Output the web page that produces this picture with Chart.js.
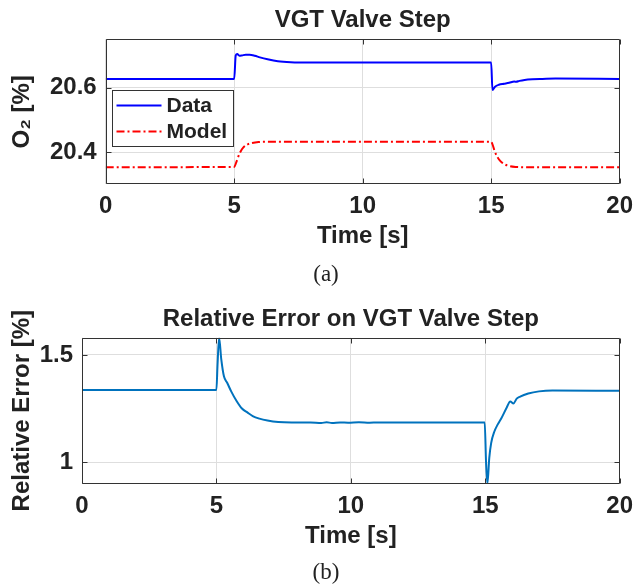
<!DOCTYPE html>
<html>
<head>
<meta charset="utf-8">
<script src="https://cdn.jsdelivr.net/npm/chart.js@4.4.1/dist/chart.umd.min.js"></script>
<style>
    html, body { margin: 0; padding: 0; background: #fff; }
    #wrap { position: relative; width: 641px; height: 586px; overflow: hidden; }
    .panel { position: absolute; left: 0; width: 641px; }
    .caption {
        position: absolute;
        font-family: 'Liberation Serif', 'DejaVu Serif', serif;
        font-size: 23px;
        color: #222;
        transform: translate(-50%, -50%);
    }
</style>
</head>
<body>
<div id="wrap">
    <div class="panel" style="top:0;height:290px"><canvas id="o2Chart" width="641" height="290"></canvas></div>
    <div class="panel" style="top:290px;height:296px"><canvas id="errChart" width="641" height="296"></canvas></div>
    <div class="caption" style="left:326px;top:274px">(a)</div>
    <div class="caption" style="left:326px;top:572px">(b)</div>
</div>
<script>
// tick values
const timeTicks = [0, 5, 10, 15, 20];
const o2Ticks = [20.4, 20.6];
const errTicks = [1, 1.5];

// O2 measured (Data)
const dataTime = [0, 5.0, 5.06, 5.12, 5.2, 5.3, 5.45, 5.6, 5.8, 6.0, 6.3, 6.7, 7.2, 8, 10, 12, 15.0, 15.05, 15.15, 15.3, 15.5, 15.7, 15.9, 15.97, 16.1, 16.3, 16.6, 17.0, 17.5, 20];
const dataO2 = [20.627, 20.627, 20.700, 20.704, 20.699, 20.700, 20.702, 20.702, 20.699, 20.694, 20.688, 20.682, 20.679, 20.678, 20.678, 20.678, 20.678, 20.593, 20.603, 20.609, 20.612, 20.615, 20.619, 20.618, 20.621, 20.624, 20.626, 20.627, 20.628, 20.627];

// O2 model
const modelTime = [0, 5.0, 5.08, 5.16, 5.25, 5.35, 5.5, 5.7, 5.95, 6.3, 6.8, 7.5, 10, 15.0, 15.06, 15.14, 15.24, 15.36, 15.5, 15.7, 15.95, 16.3, 17, 20];
const modelO2 = [20.353, 20.354, 20.368, 20.386, 20.402, 20.414, 20.423, 20.428, 20.431, 20.432, 20.432, 20.432, 20.432, 20.432, 20.422, 20.402, 20.385, 20.372, 20.363, 20.357, 20.354, 20.353, 20.353, 20.353];

// relative error [%]
const errTime = [0, 5.0, 5.04, 5.1, 5.18, 5.28, 5.4, 5.55, 5.75, 5.95, 6.15, 6.35, 6.6, 6.9, 7.3, 7.8, 8.5, 8.9, 9.1, 9.3, 9.6, 9.9, 10.3, 10.7, 11.0, 12, 14.98, 15.03, 15.08, 15.15, 15.22, 15.34, 15.46, 15.6, 15.8, 15.93, 16.05, 16.17, 16.3, 16.6, 17.0, 17.5, 20];
const errValues = [1.336, 1.336, 1.45, 1.58, 1.48, 1.40, 1.37, 1.33, 1.285, 1.25, 1.232, 1.215, 1.203, 1.194, 1.187, 1.185, 1.185, 1.183, 1.186, 1.183, 1.185, 1.184, 1.186, 1.184, 1.185, 1.185, 1.185, 1.0, 0.9, 1.02, 1.089, 1.143, 1.175, 1.205, 1.255, 1.283, 1.274, 1.296, 1.306, 1.32, 1.33, 1.334, 1.333];

function toPoints(xs, ys) {
    return xs.map((x, i) => ({x: x, y: ys[i]}));
}

Chart.defaults.font.family = "'Liberation Sans', Arial, sans-serif";
Chart.defaults.font.size = 24;
Chart.defaults.font.weight = 'bold';
Chart.defaults.color = '#222';
Chart.defaults.animation = false;

// box round the axes with inward ticks, like matlab
const boxPlugin = {
    id: 'boxPlugin',
    afterDatasetsDraw(chart) {
        const {ctx, chartArea: a, scales} = chart;
        const l = Math.round(a.left) + 0.5, r = Math.round(a.right) - 0.5;
        const t = Math.round(a.top) + 0.5, b = Math.round(a.bottom) - 0.5;
        ctx.save();
        ctx.strokeStyle = '#333';
        ctx.lineWidth = 1;
        ctx.beginPath();
        ctx.rect(l, t, r - l, b - t);
        scales.x.ticks.forEach(tk => {
            const px = Math.round(scales.x.getPixelForValue(tk.value)) + 0.5;
            ctx.moveTo(px, b); ctx.lineTo(px, b - 5);
            ctx.moveTo(px, t); ctx.lineTo(px, t + 5);
        });
        scales.y.ticks.forEach(tk => {
            const py = Math.round(scales.y.getPixelForValue(tk.value)) + 0.5;
            ctx.moveTo(l, py); ctx.lineTo(l + 5, py);
            ctx.moveTo(r, py); ctx.lineTo(r - 5, py);
        });
        ctx.stroke();
        ctx.restore();
    }
};

// legend box inside the plot
const insideLegend = {
    id: 'insideLegend',
    afterDatasetsDraw(chart) {
        const {ctx, chartArea: a} = chart;
        const bx = Math.round(a.left + 6) + 0.5, by = Math.round(a.top + 51) + 0.5;
        const bw = 121, bh = 56;
        ctx.save();
        ctx.fillStyle = '#fff';
        ctx.fillRect(bx, by, bw, bh);
        ctx.strokeStyle = '#333';
        ctx.lineWidth = 1;
        ctx.strokeRect(bx, by, bw, bh);
        ctx.font = "bold 21px 'Liberation Sans', Arial, sans-serif";
        ctx.textBaseline = 'middle';
        ctx.fillStyle = '#222';
        chart.data.datasets.forEach((ds, i) => {
            const ly = by + 15 + i * 26;
            ctx.strokeStyle = ds.borderColor;
            ctx.lineWidth = ds.borderWidth;
            ctx.setLineDash(ds.borderDash || []);
            ctx.beginPath();
            ctx.moveTo(bx + 4, ly);
            ctx.lineTo(bx + 49, ly);
            ctx.stroke();
            ctx.setLineDash([]);
            ctx.fillText(ds.label, bx + 54, ly + 1);
        });
        ctx.restore();
    }
};

function timeAxis(height, titlePad) {
    return {
        type: 'linear', min: 0, max: 20,
        afterBuildTicks: s => { s.ticks = timeTicks.map(v => ({value: v})); },
        afterFit: s => { s.height = height; },
        grid: {color: '#dedede', drawTicks: false},
        border: {display: false},
        ticks: {padding: 8, callback: v => String(v)},
        title: {display: true, text: 'Time [s]', padding: {top: 0, bottom: titlePad}}
    };
}

function valueAxis(min, max, tickList, width, label) {
    return {
        type: 'linear', min: min, max: max,
        afterBuildTicks: s => { s.ticks = tickList.map(v => ({value: v})); },
        afterFit: s => { s.width = width; },
        grid: {color: '#dedede', drawTicks: false},
        border: {display: false},
        ticks: {padding: 9, callback: v => String(v)},
        title: {display: true, text: label, padding: {top: 8, bottom: 0}}
    };
}

new Chart(document.getElementById('o2Chart').getContext('2d'), {
    type: 'line',
    data: {
        datasets: [{
            label: 'Data',
            data: toPoints(dataTime, dataO2),
            borderColor: '#0000ff',
            borderWidth: 2,
            pointRadius: 0,
            cubicInterpolationMode: 'monotone'
        }, {
            label: 'Model',
            data: toPoints(modelTime, modelO2),
            borderColor: '#ff0000',
            borderWidth: 2,
            borderDash: [8, 3, 2, 3],
            pointRadius: 0,
            cubicInterpolationMode: 'monotone'
        }]
    },
    options: {
        responsive: false,
        devicePixelRatio: 1,
        layout: {padding: {left: 0, right: 13, top: 0, bottom: 0}},
        scales: {
            x: timeAxis(105.7, 39.6),
            y: valueAxis(20.3, 20.75, o2Ticks, 105.7, 'O\u2082 [%]')
        },
        plugins: {
            legend: {display: false},
            tooltip: {enabled: false},
            title: {
                display: true, text: 'VGT Valve Step', fullSize: false,
                font: {size: 24, weight: 'bold'},
                padding: {top: 5.6, bottom: 4.9}
            }
        }
    },
    plugins: [boxPlugin, insideLegend]
});

new Chart(document.getElementById('errChart').getContext('2d'), {
    type: 'line',
    data: {
        datasets: [{
            label: 'Relative Error',
            data: toPoints(errTime, errValues),
            borderColor: '#0072bd',
            borderWidth: 2,
            pointRadius: 0,
            cubicInterpolationMode: 'monotone'
        }]
    },
    options: {
        responsive: false,
        devicePixelRatio: 1,
        layout: {padding: {left: 0, right: 14, top: 0, bottom: 0}},
        scales: {
            x: timeAxis(102.3, 34.9),
            y: valueAxis(0.9, 1.58, errTicks, 82, 'Relative Error [%]')
        },
        plugins: {
            legend: {display: false},
            tooltip: {enabled: false},
            title: {
                display: true, text: 'Relative Error on VGT Valve Step', fullSize: false,
                font: {size: 24, weight: 'bold'},
                padding: {top: 14.9, bottom: 4.0}
            }
        }
    },
    plugins: [boxPlugin]
});
</script>
</body>
</html>
